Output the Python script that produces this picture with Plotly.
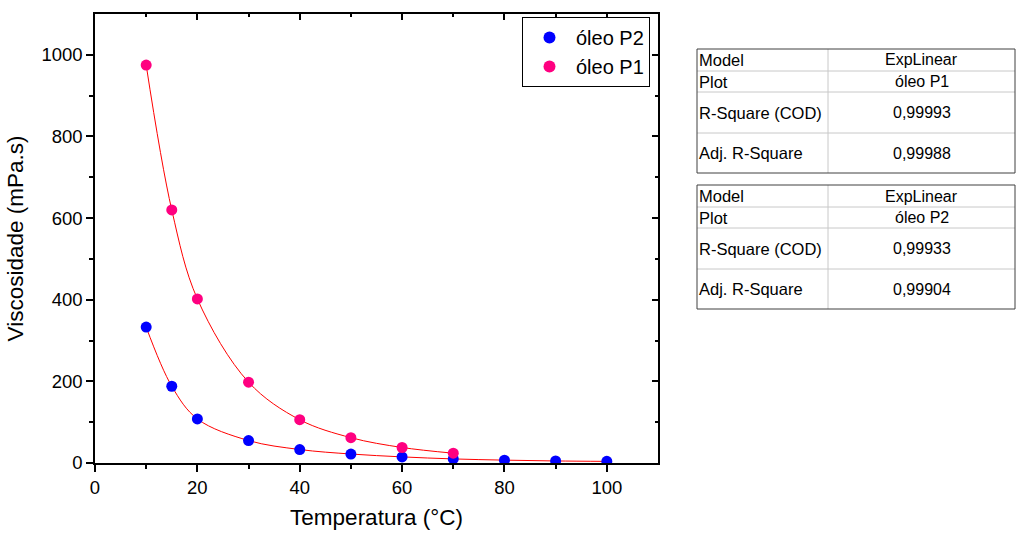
import plotly.graph_objects as go

# Data
temp_p1 = [10, 15, 20, 30, 40, 50, 60, 70]
visc_p1 = [975, 620, 402, 198, 106, 62, 38, 24]
temp_p2 = [10, 15, 20, 30, 40, 50, 60, 70, 80, 90, 100]
visc_p2 = [333, 188, 108, 55, 33, 22, 15, 10, 7, 5, 4]

table1 = [("Model", "ExpLinear"), ("Plot", "óleo P1"),
          ("R-Square (COD)", "0,99993"), ("Adj. R-Square", "0,99988")]
table2 = [("Model", "ExpLinear"), ("Plot", "óleo P2"),
          ("R-Square (COD)", "0,99933"), ("Adj. R-Square", "0,99904")]

W, H = 1016, 536
L, R, T, B = 95, 658, 14, 463
PW, PH = R - L, B - T

def px(x):
    return (x - L) / PW

def py(y):
    return (B - y) / PH

FONT = "Liberation Sans, Arial, sans-serif"
BLUE = "#0000FF"
PINK = "#FF0080"

fig = go.Figure()
# fit curves (smooth through points)
fig.add_trace(go.Scatter(x=temp_p1, y=visc_p1, mode="lines", line=dict(color="#FF0000", width=1, shape="spline", smoothing=1.0),
                         showlegend=False, hoverinfo="skip"))
fig.add_trace(go.Scatter(x=temp_p2, y=visc_p2, mode="lines", line=dict(color="#FF0000", width=1, shape="spline", smoothing=1.0),
                         showlegend=False, hoverinfo="skip"))
fig.add_trace(go.Scatter(x=temp_p2, y=visc_p2, mode="markers", name="óleo P2",
                         marker=dict(color=BLUE, size=11)))
fig.add_trace(go.Scatter(x=temp_p1, y=visc_p1, mode="markers", name="óleo P1",
                         marker=dict(color=PINK, size=11)))
# dummy trace to enable mirror axes
fig.add_trace(go.Scatter(x=[None], y=[None], xaxis="x2", yaxis="y2", showlegend=False))

axis_common = dict(showgrid=False, zeroline=False, showline=True, linecolor="black", linewidth=1.5,
                   tickcolor="black", tickwidth=1.5, automargin=False)

fig.update_layout(
    width=W, height=H,
    margin=dict(l=L, r=W - R, t=T, b=H - B, autoexpand=False),
    paper_bgcolor="white", plot_bgcolor="white",
    font=dict(family=FONT, color="black"),
    xaxis=dict(range=[0, 110], tickvals=[0, 20, 40, 60, 80, 100], ticks="outside", ticklen=7,
               minor=dict(tickvals=[10, 30, 50, 70, 90], ticks="outside", ticklen=4, tickcolor="black", tickwidth=1.5),
               tickfont=dict(size=18.5), title=dict(text="Temperatura (°C)", font=dict(size=22.5), standoff=12),
               **axis_common),
    yaxis=dict(range=[0, 1100], tickvals=[0, 200, 400, 600, 800, 1000], ticks="outside", ticklen=7,
               minor=dict(tickvals=[100, 300, 500, 700, 900], ticks="outside", ticklen=4, tickcolor="black", tickwidth=1.5),
               tickfont=dict(size=18.5), title=dict(text="Viscosidade (mPa.s)", font=dict(size=22.5), standoff=12),
               **axis_common),
    xaxis2=dict(range=[0, 110], overlaying="x", side="top", tickvals=[0, 20, 40, 60, 80, 100], ticks="inside", ticklen=6,
                minor=dict(tickvals=[10, 30, 50, 70, 90], ticks="inside", ticklen=3, tickcolor="black", tickwidth=1.5),
                showticklabels=False, **axis_common),
    yaxis2=dict(range=[0, 1100], overlaying="y", side="right", tickvals=[0, 200, 400, 600, 800, 1000], ticks="inside", ticklen=6,
                minor=dict(tickvals=[100, 300, 500, 700, 900], ticks="inside", ticklen=3, tickcolor="black", tickwidth=1.5),
                showticklabels=False, **axis_common),
    legend=dict(x=px(522), y=py(17), xanchor="left", yanchor="top", bordercolor="black", borderwidth=1,
                bgcolor="white", font=dict(size=20), traceorder="normal", itemsizing="constant", itemwidth=43),
)

shapes = []
annotations = []

def draw_table(rows, top):
    x0, xm, x1 = 697, 828, 1015
    bounds = [top, top + 22, top + 43, top + 84, top + 124]
    for yb in bounds[1:-1]:
        shapes.append(dict(type="line", xref="paper", yref="paper", x0=px(x0), x1=px(x1), y0=py(yb), y1=py(yb),
                           line=dict(color="#C8C8C8", width=1)))
    shapes.append(dict(type="line", xref="paper", yref="paper", x0=px(xm), x1=px(xm), y0=py(bounds[0]), y1=py(bounds[-1]),
                       line=dict(color="#C8C8C8", width=1)))
    shapes.append(dict(type="rect", xref="paper", yref="paper", x0=px(x0), x1=px(x1), y0=py(bounds[0]), y1=py(bounds[-1]),
                       line=dict(color="#404040", width=1)))
    for i, (a, b) in enumerate(rows):
        yc = (bounds[i] + bounds[i + 1]) / 2
        annotations.append(dict(x=px(x0), y=py(yc), xref="paper", yref="paper", text=a, showarrow=False,
                                xanchor="left", yanchor="middle", font=dict(size=16.5, family=FONT, color="black")))
        annotations.append(dict(x=px((xm + x1) / 2), y=py(yc), xref="paper", yref="paper", text=b, showarrow=False,
                                xanchor="center", yanchor="middle", font=dict(size=16, family=FONT, color="black")))

draw_table(table1, 49)
draw_table(table2, 185)

fig.update_layout(shapes=shapes, annotations=annotations)
fig.write_html("out.html")
